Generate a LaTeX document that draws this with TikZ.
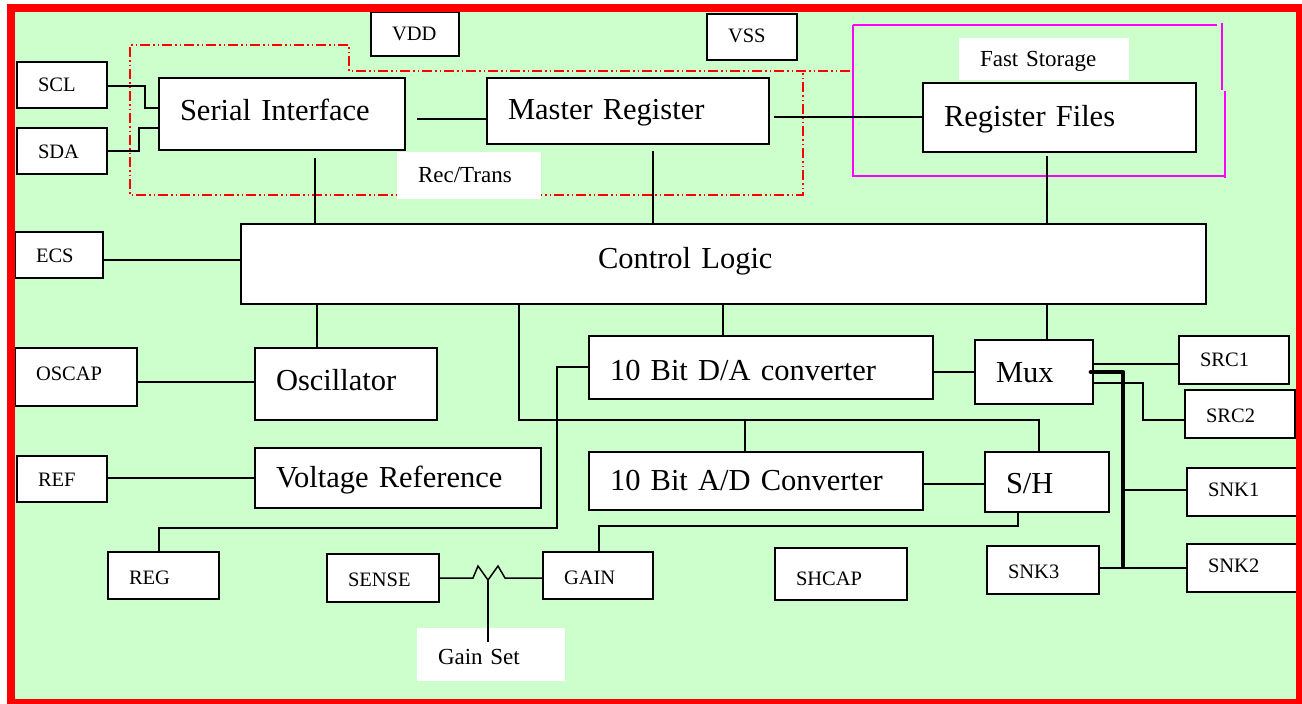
\documentclass[tikz,border=0pt]{standalone}
\usepackage{fontspec}
\setmainfont{Liberation Serif}
\definecolor{bggreen}{HTML}{CCFFCC}
\definecolor{framered}{HTML}{FF0000}
\definecolor{fastmag}{HTML}{FF00FF}
\tikzset{
  box/.style={draw=black, line width=1.6pt, fill=white, rectangle, inner ysep=0pt, align=left, text depth=0pt},
  lbl/.style={box, draw=none},
  big/.style={font=\fontsize{30.5}{36}\selectfont},
  small/.style={font=\fontsize{20.5}{24}\selectfont},
  mid/.style={font=\fontsize{23}{27}\selectfont},
  wire/.style={line width=1.5pt},
  bus/.style={line width=4.5pt, line cap=round, line join=round},
  dashbound/.style={draw=framered, line width=1.6pt, dash pattern=on 10pt off 3pt on 1.5pt off 3pt on 1.5pt off 3pt},
  fastbound/.style={draw=fastmag, line width=1.7pt}
}
% \blk[pad]{name}{style}{x1}{y1}{x2}{y2}{baseline}{text}
\newcommand{\blk}[9][21]{%
  \pgfmathsetmacro\bxw{#6-#4}\pgfmathsetmacro\bxh{#7-#5}%
  \pgfmathsetmacro\bxt{2*#8-#5-#7}\pgfmathsetmacro\bxtw{#6-#4-2*#1}%
  \node[#3, inner xsep=#1pt, minimum width=\bxw pt, minimum height=\bxh pt, text width=\bxtw pt, text height=\bxt pt] (#2) at ({(#4+#6)/2},{(#5+#7)/2}) {\mbox{#9}};%
}
\begin{document}
\begin{tikzpicture}[x=1pt,y=-1pt]
\useasboundingbox (0,0) rectangle (1302,704);
\fill[white] (0,0) rectangle (1302,704);
\fill[bggreen] (11,8) rectangle (1300,703);
% dash-dot boundary (Rec/Trans group)
\draw[dashbound] (850,71) -- (349,71) -- (349,45) -- (130,45) -- (130,195) -- (803,195) -- (803,71);
% Fast storage boundary
\draw[fastbound] (853,25) -- (1217,25);
\draw[fastbound] (1222,23) -- (1222,90);
\draw[fastbound] (1225,91) -- (1225,178);
\draw[fastbound] (853,25) -- (853,176) -- (1225,176);
% labels on white
\blk{fs}{lbl,mid}{959}{38}{1129}{80}{66}{Fast Storage}
\blk{rt}{lbl,mid}{397}{152}{541}{199}{182}{Rec/Trans}
\blk{gs}{lbl,mid}{417}{628}{565}{681}{664}{Gain Set}
% boxes
\blk{scl}{box,small}{17}{62}{107}{108}{91}{SCL}
\blk{sda}{box,small}{17}{128}{107}{174}{158}{SDA}
\blk{si}{box,big}{159}{78}{405}{150}{120}{Serial Interface}
\blk{vdd}{box,small}{371}{12}{459}{56}{40}{VDD}
\blk{vss}{box,small}{707}{14}{797}{60}{42}{VSS}
\blk{mr}{box,big}{487}{78}{769}{144}{119}{Master Register}
\blk{rf}{box,big}{923}{83}{1196}{152}{126}{Register Files}
\blk[357]{cl}{box,big}{241}{224}{1206}{304}{268}{Control Logic}
\blk{ecs}{box,small}{15}{232}{103}{278}{262}{ECS}
\blk{oscap}{box,small}{15}{348}{137}{406}{380}{OSCAP}
\blk{osc}{box,big}{255}{348}{437}{420}{390}{Oscillator}
\blk{ref}{box,small}{17}{456}{107}{502}{486}{REF}
\blk{vr}{box,big}{255}{448}{541}{508}{487}{Voltage Reference}
\blk{da}{box,big}{589}{336}{933}{399}{380}{10 Bit D/A converter}
\blk{ad}{box,big}{589}{452}{923}{510}{490}{10 Bit A/D Converter}
\blk{mux}{box,big}{975}{340}{1093}{404}{382}{Mux}
\blk{sh}{box,big}{985}{452}{1109}{512}{493}{S/H}
\blk{src1}{box,small}{1179}{336}{1289}{384}{366}{SRC1}
\blk{src2}{box,small}{1185}{390}{1295}{438}{422}{SRC2}
\blk{snk1}{box,small}{1187}{468}{1297}{516}{496}{SNK1}
\blk{snk2}{box,small}{1187}{544}{1297}{592}{572}{SNK2}
\blk{snk3}{box,small}{987}{546}{1099}{594}{578}{SNK3}
\blk{reg}{box,small}{108}{552}{219}{599}{584}{REG}
\blk{sense}{box,small}{327}{554}{439}{602}{586}{SENSE}
\blk{gain}{box,small}{543}{552}{653}{599}{584}{GAIN}
\blk{shcap}{box,small}{775}{548}{907}{600}{585}{SHCAP}
% connectors
\draw[wire] (scl.east |- 0,86) -| (145,108) -- (si.west |- 0,108);
\draw[wire] (sda.east) -| (139,128) -- (si.west |- 0,128);
\draw[wire] (si.east |- 0,119) ++(11,0) -- (mr.west |- 0,119);
\draw[wire] (mr.east |- 0,117) ++(4,0) -- (rf.west |- 0,117);
\draw[wire] (si.south -| 315,0) ++(0,7) -- (cl.north -| 315,0);
\draw[wire] (mr.south -| 653,0) ++(0,6) -- (cl.north -| 653,0);
\draw[wire] (rf.south -| 1047,0) ++(0,3) -- (cl.north -| 1047,0);
\draw[wire] (ecs.east |- 0,260) -- (cl.west |- 0,260);
\draw[wire] (oscap.east |- 0,382) -- (osc.west |- 0,382);
\draw[wire] (ref.east |- 0,478) -- (vr.west |- 0,478);
\draw[wire] (cl.south -| 317,0) -- (osc.north -| 317,0);
\draw[wire] (cl.south -| 723,0) -- (da.north -| 723,0);
\draw[wire] (cl.south -| 1047,0) -- (mux.north -| 1047,0);
\draw[wire] (cl.south -| 519,0) |- (1039,420) -- (sh.north -| 1039,0);
\coordinate (adj) at (745,420);
\draw[wire] (adj) -- (ad.north -| adj);
\draw[wire] (da.east |- 0,372) -- (mux.west |- 0,372);
\draw[wire] (ad.east |- 0,484) -- (sh.west |- 0,484);
\draw[wire] (da.west |- 0,367) -| (557,528) -| (reg.north -| 159,0);
\draw[wire] (sh.south -| 1018,0) |- (599,526) -- (gain.north -| 599,0);
\draw[wire] (mux.east |- 0,364) -- (src1.west |- 0,364);
\draw[wire] (mux.east |- 0,383) -| (1143,420) -- (src2.west |- 0,420);
\draw[bus] (mux.east |- 0,372) ++(-3,0) -| (1123,566);
\coordinate (bus1) at (1123,490);
\draw[wire] (bus1) -- (snk1.west |- bus1);
\draw[wire] (snk3.east |- 0,568) -- (snk2.west |- 0,568);
\coordinate (rm) at (488,580);
\draw[wire, line join=miter] (sense.east |- 0,578) -- (473,578) -- (478,566) -- (rm) -- (498,566) -- (505,578) -- (gain.west |- 0,578);
\draw[wire] (rm) -- (rm |- 0,642);
% outer frame
\draw[framered, line width=8pt] (11,8) rectangle (1300,703);
\end{tikzpicture}
\end{document}
